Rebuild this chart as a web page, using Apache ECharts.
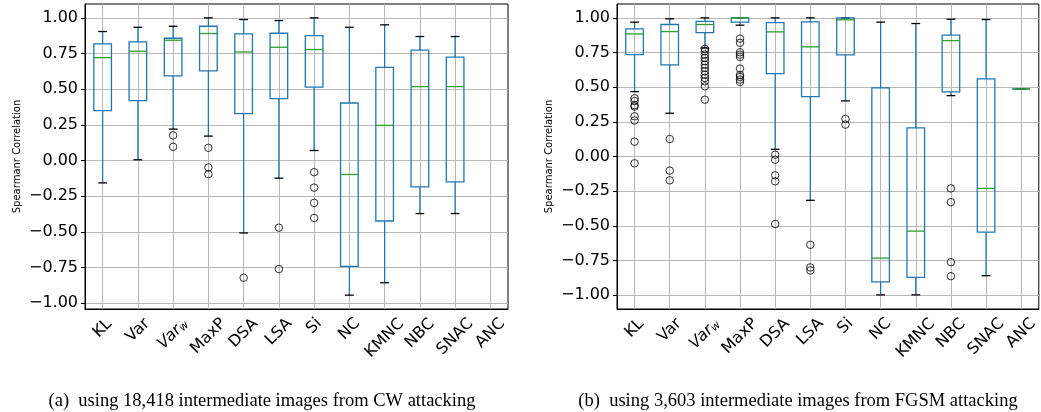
<!DOCTYPE html>
<html>
<head>
<meta charset="utf-8">
<script src="https://cdn.jsdelivr.net/npm/echarts@6/dist/echarts.min.js"></script>
<style>
  html, body { margin: 0; padding: 0; background: #fff; }
  #chart { width: 1041px; height: 412px; }
</style>
</head>
<body>
<div id="chart"></div>
<script>
const categories = ['KL', 'Var', 'Varw', 'MaxP', 'DSA', 'LSA', 'Si', 'NC', 'KMNC', 'NBC', 'SNAC', 'ANC']
const yTicks = [-1, -0.75, -0.5, -0.25, 0, 0.25, 0.5, 0.75, 1]

// (a) CW attacking
const cwLow = [-0.157, 0.005, 0.220, 0.171, -0.508, -0.124, 0.070, -0.944, -0.857, -0.372, -0.372, null]
const cwQ1 = [0.349, 0.419, 0.593, 0.628, 0.328, 0.433, 0.515, -0.742, -0.424, -0.185, -0.150, null]
const cwMed = [0.721, 0.766, 0.843, 0.890, 0.761, 0.794, 0.778, -0.098, 0.246, 0.518, 0.518, null]
const cwQ3 = [0.817, 0.831, 0.857, 0.941, 0.888, 0.892, 0.876, 0.403, 0.653, 0.773, 0.724, null]
const cwHigh = [0.904, 0.934, 0.941, 1.0, 0.988, 0.981, 1.0, 0.934, 0.951, 0.869, 0.869, null]
const cwOutliers = [
  [], [], [0.176, 0.096], [0.089, -0.049, -0.096], [-0.822], [-0.471, -0.761],
  [-0.082, -0.190, -0.297, -0.403], [], [], [], [], []
]

// (b) FGSM attacking
const fgLow = [0.468, 0.312, 0.783, 0.947, 0.052, -0.316, 0.401, -0.998, -0.998, 0.439, -0.860, 0.487]
const fgQ1 = [0.735, 0.661, 0.894, 0.969, 0.598, 0.432, 0.733, -0.904, -0.872, 0.466, -0.545, 0.487]
const fgMed = [0.884, 0.901, 0.952, 1.0, 0.899, 0.791, 0.986, -0.733, -0.538, 0.836, -0.230, 0.487]
const fgQ3 = [0.921, 0.952, 0.974, 1.0, 0.966, 0.971, 1.0, 0.495, 0.206, 0.875, 0.560, 0.487]
const fgHigh = [0.969, 0.993, 1.0, 1.0, 1.0, 1.0, 1.0, 0.969, 0.959, 0.990, 0.988, 0.487]
const fgOutliers = [
  [0.420, 0.400, 0.370, 0.360, 0.290, 0.260, 0.107, -0.049],
  [0.126, -0.102, -0.172],
  [0.776, 0.759, 0.735, 0.711, 0.687, 0.663, 0.639, 0.614, 0.590, 0.567, 0.542, 0.506, 0.410],
  [0.850, 0.820, 0.752, 0.735, 0.718, 0.634, 0.588, 0.574, 0.555, 0.538],
  [0.013, -0.023, -0.136, -0.179, -0.487],
  [-0.637, -0.800, -0.822],
  [0.271, 0.230],
  [], [],
  [-0.230, -0.329, -0.762, -0.863],
  [], []
]

const captions = [
  '(a)  using 18,418 intermediate images from CW attacking',
  '(b)  using 3,603 intermediate images from FGSM attacking'
]

const BLUE = '#1f77b4'
const GREEN = '#2ca02c'
const FONT = 'DejaVu Sans'

function boxData(low, q1, med, q3, high) {
  return categories
    .map((c, i) => [i, low[i], q1[i], med[i], q3[i], high[i]])
    .filter(d => d[1] != null)
}

function outlierData(outliers) {
  const res = []
  outliers.forEach((list, i) => list.forEach(v => res.push([i, v])))
  return res
}

// matplotlib-like box: blue box and whiskers, black caps, green median
function renderBox(params, api) {
  const i = api.value(0)
  const band = api.size([1, 0])[0]
  const half = band * 0.25
  const capHalf = band * 0.125
  const pLow = api.coord([i, api.value(1)])
  const pQ1 = api.coord([i, api.value(2)])
  const pMed = api.coord([i, api.value(3)])
  const pQ3 = api.coord([i, api.value(4)])
  const pHigh = api.coord([i, api.value(5)])
  const x = pQ1[0]
  const line = (x1, y1, x2, y2, color) => ({
    type: 'line',
    shape: { x1, y1, x2, y2 },
    style: { stroke: color, lineWidth: 1.3 }
  })
  return {
    type: 'group',
    children: [
      line(x, pQ1[1], x, pLow[1], BLUE),
      line(x, pQ3[1], x, pHigh[1], BLUE),
      line(x - capHalf, pLow[1], x + capHalf, pLow[1], '#000'),
      line(x - capHalf, pHigh[1], x + capHalf, pHigh[1], '#000'),
      {
        type: 'rect',
        shape: { x: x - half, y: pQ3[1], width: half * 2, height: pQ1[1] - pQ3[1] },
        style: { fill: 'none', stroke: BLUE, lineWidth: 1.3 }
      },
      line(x - half, pMed[1], x + half, pMed[1], GREEN)
    ]
  }
}

function fmtTick(v) {
  return v.toFixed(2).replace('-', '\u2212')
}

// rotated labels centred under their tick (like matplotlib ha='center'):
// equal top/right padding moves a 45deg label straight down
const ctx = document.createElement('canvas').getContext('2d')
function labelWidth(c) {
  if (c === 'Varw') {
    ctx.font = 'italic 16px "DejaVu Sans"'
    const w = ctx.measureText('Var').width
    ctx.font = 'italic 11px "DejaVu Sans"'
    return w + ctx.measureText('w').width
  }
  ctx.font = '16px "DejaVu Sans"'
  return ctx.measureText(c).width
}
const labelPad = categories.map(c => Math.round((labelWidth(c) + 11.7) / 2))

const rich = {}
categories.forEach((c, i) => {
  const p = labelPad[i]
  if (c === 'Varw') {
    rich['a' + i] = { fontFamily: FONT, fontSize: 16, fontStyle: 'italic', color: '#000', padding: [p, 0, 0, 0] }
    rich['b' + i] = { fontFamily: FONT, fontSize: 11, fontStyle: 'italic', color: '#000', verticalAlign: 'bottom', padding: [0, p, 0, 0] }
  } else {
    rich['a' + i] = { fontFamily: FONT, fontSize: 16, color: '#000', padding: [p, p, 0, 0] }
  }
})

function labelText(v) {
  const i = categories.indexOf(v)
  return v === 'Varw' ? '{a' + i + '|Var}{b' + i + '|w}' : '{a' + i + '|' + v + '}'
}

function makeX(idx) {
  return {
    type: 'category',
    gridIndex: idx,
    data: categories,
    axisLine: { onZero: false, lineStyle: { color: '#000', width: 1 } },
    axisTick: { alignWithLabel: true, length: 5, lineStyle: { color: '#000' } },
    axisLabel: {
      rotate: 45,
      interval: 0,
      margin: 8,
      align: 'center',
      verticalAlign: 'middle',
      color: '#000',
      fontFamily: FONT,
      fontSize: 16,
      formatter: labelText,
      rich
    },
    splitLine: { show: true, alignWithLabel: true, lineStyle: { color: '#b8b8b8', width: 1 } }
  }
}

function makeY(idx, min, max) {
  return {
    type: 'value',
    gridIndex: idx,
    min,
    max,
    name: 'Spearmanr Correlation',
    nameLocation: 'middle',
    nameGap: 63,
    nameTextStyle: { fontFamily: FONT, fontSize: 10, color: '#000' },
    axisLine: { show: true, lineStyle: { color: '#000', width: 1 } },
    axisTick: { show: true, length: 4, customValues: yTicks, lineStyle: { color: '#000' } },
    axisLabel: {
      customValues: yTicks,
      formatter: fmtTick,
      margin: 7,
      color: '#000',
      fontFamily: FONT,
      fontSize: 16
    },
    splitLine: { show: true, lineStyle: { color: '#b8b8b8', width: 1 } }
  }
}

const chart = echarts.init(document.getElementById('chart'), null, { renderer: 'canvas' })

const captionStyle = { fontFamily: 'Liberation Serif', fontWeight: 'normal', fontSize: 18.5, color: '#000' }

chart.setOption({
  animation: false,
  backgroundColor: '#fff',
  title: [
    { text: captions[0], left: 257, top: 387, textAlign: 'center', textStyle: captionStyle },
    { text: captions[1], left: 793, top: 387, textAlign: 'center', textStyle: captionStyle }
  ],
  grid: [
    { left: 85, top: 4, width: 423, height: 305, show: true, borderColor: '#000', borderWidth: 1 },
    { left: 617, top: 4, width: 423, height: 305, show: true, borderColor: '#000', borderWidth: 1 }
  ],
  xAxis: [makeX(0), makeX(1)],
  yAxis: [makeY(0, -1.041, 1.097), makeY(1, -1.1, 1.1)],
  series: [
    {
      type: 'custom', xAxisIndex: 0, yAxisIndex: 0,
      renderItem: renderBox,
      encode: { x: 0, y: [1, 2, 3, 4, 5] },
      data: boxData(cwLow, cwQ1, cwMed, cwQ3, cwHigh),
      z: 3
    },
    {
      type: 'scatter', xAxisIndex: 0, yAxisIndex: 0,
      symbol: 'circle', symbolSize: 7.5,
      itemStyle: { color: 'transparent', borderColor: '#000', borderWidth: 1 },
      data: outlierData(cwOutliers),
      z: 4
    },
    {
      type: 'custom', xAxisIndex: 1, yAxisIndex: 1,
      renderItem: renderBox,
      encode: { x: 0, y: [1, 2, 3, 4, 5] },
      data: boxData(fgLow, fgQ1, fgMed, fgQ3, fgHigh),
      z: 3
    },
    {
      type: 'scatter', xAxisIndex: 1, yAxisIndex: 1,
      symbol: 'circle', symbolSize: 7.5,
      itemStyle: { color: 'transparent', borderColor: '#000', borderWidth: 1 },
      data: outlierData(fgOutliers),
      z: 4
    }
  ]
})
</script>
</body>
</html>
